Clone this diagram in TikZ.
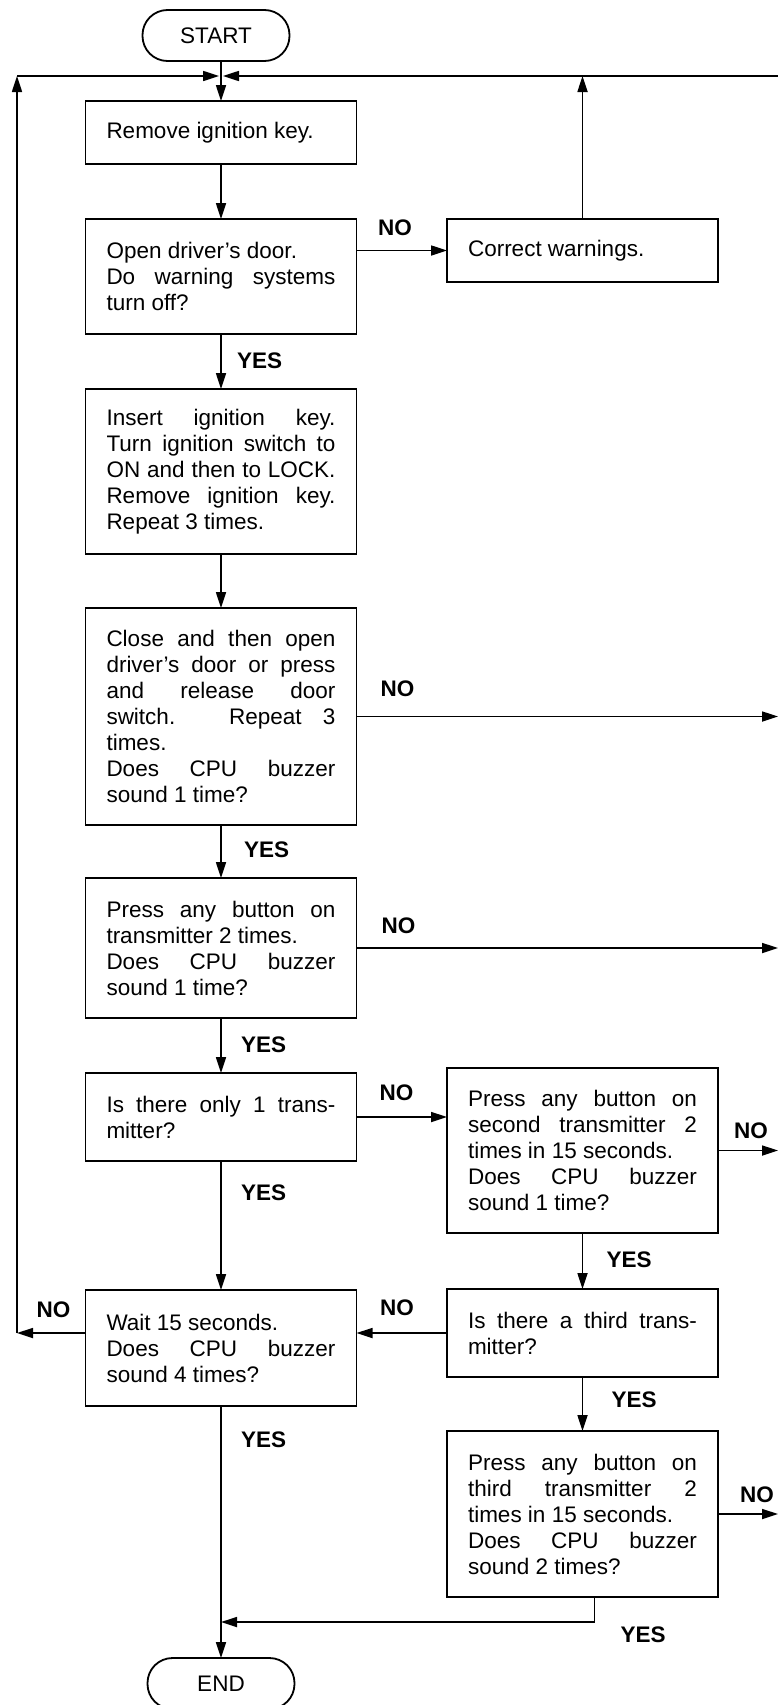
\documentclass[tikz,border=0pt]{standalone}
\usepackage{fontspec}
\setmainfont{Liberation Sans}
\usetikzlibrary{positioning,arrows.meta}
\tolerance=10000
\hbadness=10000

\begin{document}
\begin{tikzpicture}[
  x=1pt, y=-1pt,
  font=\fontsize{22.5}{26}\selectfont,
  >={Triangle[length=16pt,width=10pt]},
  box/.style={draw, line width=1.8pt, outer sep=0pt, text width=229pt, inner xsep=21pt, inner ysep=6pt, align=justify},
  term/.style={draw, line width=1.8pt, outer sep=0pt, rounded corners=25pt, minimum width=147pt, minimum height=51pt},
  lbl/.style={font=\fontsize{22.5}{26}\selectfont\bfseries, inner sep=0pt},
  arr/.style={->, line width=1.7pt}
]
\useasboundingbox (0,0) rectangle (778,1705);

\node[term] (start) at (216,35.5) {START};
\node[box, minimum height=63pt, anchor=north] (remove) at (221,101) {Remove ignition key.};
\node[box, minimum height=115pt, below=55pt of remove] (door) {Open driver's door.\\ Do warning systems\linebreak turn off?};
\node[box, minimum height=63pt, anchor=north west] (warn) at ([xshift=90.5pt]door.north east) {Correct warnings.};
\node[box, minimum height=165pt, below=55pt of door] (ins) {Insert ignition key.\linebreak Turn ignition switch to\linebreak ON and then to LOCK.\linebreak Remove ignition key.\linebreak Repeat 3 times.};
\node[box, minimum height=217pt, below=54pt of ins] (close) {Close and then open\linebreak driver's door or press\linebreak and release door\linebreak switch. Repeat 3\linebreak times.\\ Does CPU buzzer\linebreak sound 1 time?};
\node[box, minimum height=140pt, below=53pt of close] (press) {Press any button on\linebreak transmitter 2 times.\\ Does CPU buzzer\linebreak sound 1 time?};
\node[box, minimum height=88pt, below=55pt of press] (only) {Is there only 1 trans-\linebreak mitter?};
\node[box, minimum height=165pt, anchor=north west] (second) at ([xshift=90.5pt, yshift=5pt]only.north east) {Press any button on\linebreak second transmitter 2\linebreak times in 15 seconds.\\ Does CPU buzzer\linebreak sound 1 time?};
\node[box, minimum height=88pt, below=56pt of second] (third) {Is there a third trans-\linebreak mitter?};
\node[box, minimum height=166pt, below=54pt of third] (press3) {Press any button on\linebreak third transmitter 2\linebreak times in 15 seconds.\\ Does CPU buzzer\linebreak sound 2 times?};
\node[box, minimum height=116pt, below=129pt of only] (wait) {Wait 15 seconds.\\ Does CPU buzzer\linebreak sound 4 times?};
\node[term, below=252pt of wait] (end) {END};

% return lines and page edge
\coordinate (ltop) at (17,76);
\coordinate (rtop) at (778,76);
\coordinate (lx) at (17,0);
\coordinate (redge) at (778,0);
\coordinate (meety) at (0,1622);
\coordinate (p3out) at ([xshift=12pt]press3.south);

\draw[arr] (start.south -| remove.north) -- (remove);
\draw[arr] (ltop) -- ([xshift=-2pt]remove.north |- ltop);
\draw[arr] (rtop) -- ([xshift=2pt]remove.north |- rtop);
\draw[arr] (remove) -- (door);
\draw[arr] (door.east |- warn.west) -- (warn.west);
\draw[arr] (warn) -- (warn |- rtop);
\draw[arr] (door) -- (ins);
\draw[arr] (ins) -- (close);
\draw[arr] (close) -- (close -| redge);
\draw[arr] (close) -- (press);
\draw[arr] (press) -- (press -| redge);
\draw[arr] (press) -- (only);
\draw[arr] (only) -- (only -| second.west);
\draw[arr] (only) -- (wait);
\draw[arr] (second) -- (second -| redge);
\draw[arr] (second) -- (third);
\draw[arr] (third) -- (third -| wait.east);
\draw[arr] (third) -- (press3);
\draw[arr] (press3) -- (press3 -| redge);
\draw[arr] (p3out) |- (wait.south |- meety);
\draw[arr] (wait) -- (end);
\draw[arr] (wait.west |- third.west) -- (lx |- third.west);
\draw[arr] (lx |- third.west) -- (ltop);

\node[lbl, above left=15pt and 35pt of warn.west] {NO};
\node[lbl, below right=19pt and 16pt of door.south] {YES};
\node[lbl, above right=20pt and 24pt of close.east] {NO};
\node[lbl, below right=17pt and 23pt of close.south] {YES};
\node[lbl, above right=14pt and 25pt of press.east] {NO};
\node[lbl, below right=19pt and 20pt of press.south] {YES};
\node[lbl, above right=16pt and 23pt of only.east] {NO};
\node[lbl, below right=24pt and 20pt of only.south] {YES};
\node[lbl, above right=12pt and 16pt of second.east] {NO};
\node[lbl, below right=19pt and 24pt of second.south] {YES};
\node[lbl, above left=17pt and 33pt of third.west] {NO};
\node[lbl, below right=15pt and 29pt of third.south] {YES};
\node[lbl, above left=30pt and 15pt of wait.west] {NO};
\node[lbl, below right=26pt and 20pt of wait.south] {YES};
\node[lbl, above right=11pt and 22pt of press3.east] {NO};
\node[lbl, below right=30pt and 38pt of press3.south] {YES};

\end{tikzpicture}
\end{document}
